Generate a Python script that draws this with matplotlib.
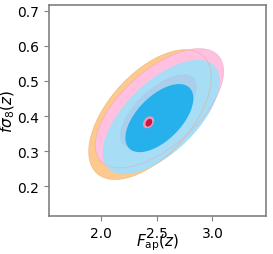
import matplotlib
matplotlib.use("Agg")
import matplotlib.pyplot as plt
import numpy as np

# contour parameters: centre, half-extent in x and y, correlation
labels = ["orange_2s", "pink_2s", "blue_2s", "pink_1s", "blue_1s", "red_2s", "red_1s"]
cx = [2.440, 2.525, 2.540, 2.515, 2.524, 2.427, 2.430]
cy = [0.404, 0.422, 0.397, 0.414, 0.394, 0.382, 0.381]
hx = [0.550, 0.575, 0.525, 0.345, 0.305, 0.050, 0.030]
hy = [0.185, 0.170, 0.163, 0.105, 0.097, 0.017, 0.011]
rho = [0.57, 0.62, 0.63, 0.66, 0.58, 0.30, 0.30]
colors = ["#fdc98e", "#ffc1df", "#a7ddf5", "#a9cfec", "#26b1ec", "#e99ab5", "#c8164a"]
edges = ["#e8b070", "#e9a6c6", None, None, None, None, None]

xticks = [2.0, 2.5, 3.0]
yticks = [0.2, 0.3, 0.4, 0.5, 0.6, 0.7]

fig = plt.figure(figsize=(2.73, 2.55), dpi=100)
ax = fig.add_axes([0.178, 0.149, 0.796, 0.827])

t = np.linspace(0, 2 * np.pi, 240)
for i in range(len(labels)):
    xs = cx[i] + hx[i] * np.cos(t)
    ys = cy[i] + hy[i] * (rho[i] * np.cos(t) + np.sqrt(1 - rho[i] ** 2) * np.sin(t))
    ax.fill(xs, ys, color=colors[i], lw=0, zorder=i + 1)
    if edges[i]:
        # faint outline showing through the lighter blue region
        ax.plot(xs, ys, color=edges[i], lw=0.6, alpha=0.6, zorder=3.5)

ax.set_xlim(1.53, 3.48)
ax.set_ylim(0.115, 0.716)
ax.set_xticks(xticks)
ax.set_yticks(yticks)
ax.tick_params(labelsize=10, color="#808080", length=3.5)
for s in ax.spines.values():
    s.set_color("#808080")
    s.set_linewidth(1.2)

ax.set_xlabel(r"$F_{\rm ap}(z)$", fontsize=11, labelpad=-6)
ax.set_ylabel(r"$f\sigma_8(z)$", fontsize=11, labelpad=0)

fig.savefig("out.png", dpi=100)
